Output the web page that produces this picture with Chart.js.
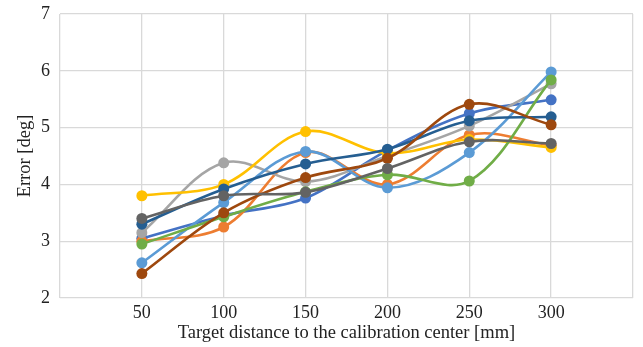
<!DOCTYPE html>
<html>
<head>
<meta charset="utf-8">
<script src="https://cdn.jsdelivr.net/npm/chart.js@4"></script>
<style>
  html, body { margin: 0; padding: 0; background: #fff; }
  #wrap { width: 643px; height: 347px; }
</style>
</head>
<body>
<div id="wrap"><canvas id="myChart"></canvas></div>
<script>
// target distances [mm]
var distances = [50, 100, 150, 200, 250, 300];
var yTicks = [2, 3, 4, 5, 6, 7];

// error [deg] per run, Excel default colour order
var s1 = [3.05, 3.45, 3.76, 4.60, 5.25, 5.49];
var s2 = [3.00, 3.25, 4.56, 4.00, 4.87, 4.69];
var s3 = [3.15, 4.38, 4.05, 4.50, 5.03, 5.77];
var s4 = [3.80, 4.00, 4.93, 4.55, 4.79, 4.65];
var s5 = [2.62, 3.68, 4.58, 3.94, 4.56, 5.98];
var s6 = [2.95, 3.43, 3.87, 4.17, 4.06, 5.84];
var s7 = [3.30, 3.92, 4.36, 4.62, 5.12, 5.19];
var s8 = [2.43, 3.50, 4.12, 4.46, 5.41, 5.05];
var s9 = [3.40, 3.80, 3.86, 4.28, 4.75, 4.72];

var allSeries = [s1, s2, s3, s4, s5, s6, s7, s8, s9];
var colors = ['#4472C4', '#ED7D31', '#A5A5A5', '#FFC000', '#5B9BD5',
    '#70AD47', '#255E91', '#9E480E', '#636363'];

var fontFam = '"Liberation Serif", "Times New Roman", serif';

var datasets = allSeries.map(function (vals, i) {
    return {
        label: 'Series ' + (i + 1),
        data: vals.map(function (v, j) { return { x: distances[j], y: v }; }),
        borderColor: colors[i],
        backgroundColor: colors[i],
        pointBackgroundColor: colors[i],
        pointBorderColor: colors[i],
        pointRadius: 5.5,
        pointBorderWidth: 0,
        borderWidth: 2.6,
        tension: 0.35,
        showLine: true,
        order: allSeries.length - i   // later series on top, as in Excel
    };
});

new Chart('myChart', {
    type: 'scatter',
    data: { datasets: datasets },
    options: {
        responsive: true,
        maintainAspectRatio: false,
        animation: false,
        layout: { padding: { top: 14, right: 10, left: 0, bottom: 3 } },
        plugins: {
            legend: { display: false },
            tooltip: { enabled: false }
        },
        scales: {
            x: {
                type: 'linear',
                min: 0,
                max: 350,
                afterFit: function (s) { s.height = 46; },
                afterBuildTicks: function (s) {
                    s.ticks = [0, 50, 100, 150, 200, 250, 300, 350].map(function (v) { return { value: v }; });
                },
                ticks: {
                    color: '#222',
                    font: { family: fontFam, size: 18, lineHeight: 1 },
                    padding: 6,
                    callback: function (v) { return distances.indexOf(v) >= 0 ? v : ''; }
                },
                grid: { color: '#d9d9d9', lineWidth: 1.3, drawTicks: false },
                border: { display: false },
                title: {
                    display: true,
                    text: 'Target distance to the calibration center [mm]',
                    color: '#222',
                    font: { family: fontFam, size: 18.5 },
                    padding: { top: 0, bottom: 0 }
                }
            },
            y: {
                min: 2,
                max: 7,
                afterFit: function (s) {
                    s.width = 60;
                    s.paddingTop = 9;
                    s.paddingBottom = 9;
                },
                afterBuildTicks: function (s) {
                    s.ticks = yTicks.map(function (v) { return { value: v }; });
                },
                ticks: {
                    color: '#222',
                    font: { family: fontFam, size: 18, lineHeight: 1 },
                    padding: 10
                },
                grid: { color: '#d9d9d9', lineWidth: 1.3, drawTicks: false },
                border: { display: false },
                title: {
                    display: true,
                    text: 'Error [deg]',
                    color: '#222',
                    font: { family: fontFam, size: 18.5 },
                    padding: { top: 14, bottom: 4 }
                }
            }
        }
    }
});
</script>
</body>
</html>
